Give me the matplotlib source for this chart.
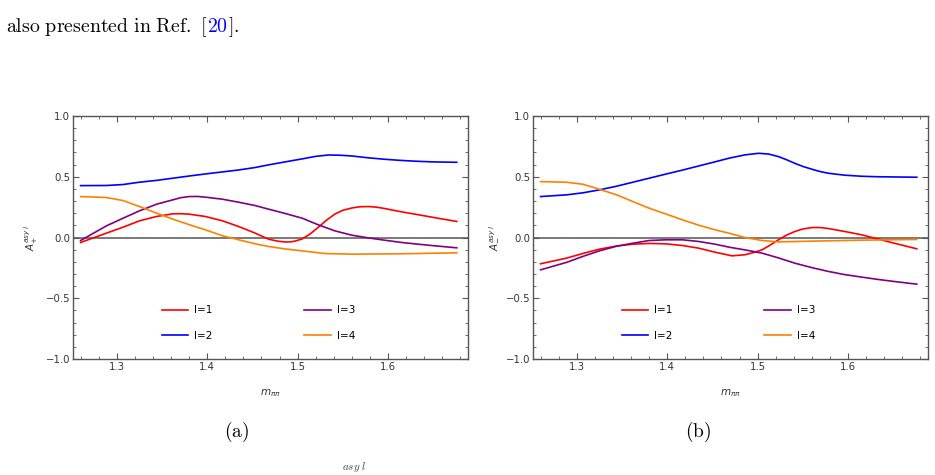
import numpy as np
import matplotlib
matplotlib.use("Agg")
import matplotlib.pyplot as plt
from matplotlib.ticker import MultipleLocator

plt.rcParams["mathtext.fontset"] = "cm"

# panel (a): A_+
a_x1 = [1.26, 1.2886, 1.307, 1.325, 1.344, 1.362, 1.371, 1.380, 1.398, 1.417, 1.435, 1.453, 1.468,
        1.478, 1.486, 1.492, 1.497, 1.505, 1.514, 1.523, 1.532, 1.541, 1.550, 1.560, 1.569, 1.578,
        1.587, 1.596, 1.615, 1.633, 1.651, 1.676]
a_y1 = [-0.041, 0.036, 0.085, 0.137, 0.173, 0.195, 0.196, 0.192, 0.173, 0.137, 0.090, 0.036, -0.014,
        -0.030, -0.037, -0.036, -0.030, -0.012, 0.030, 0.085, 0.143, 0.192, 0.224, 0.243, 0.253, 0.255,
        0.250, 0.239, 0.211, 0.188, 0.164, 0.132]
a_x2 = [1.26, 1.2886, 1.307, 1.325, 1.344, 1.362, 1.380, 1.398, 1.417, 1.435, 1.453, 1.468, 1.486,
        1.505, 1.520, 1.534, 1.547, 1.560, 1.578, 1.596, 1.615, 1.633, 1.651, 1.676]
a_y2 = [0.427, 0.428, 0.436, 0.455, 0.470, 0.488, 0.506, 0.523, 0.540, 0.556, 0.576, 0.598, 0.622,
        0.647, 0.668, 0.679, 0.677, 0.671, 0.656, 0.644, 0.634, 0.627, 0.622, 0.619]
a_x3 = [1.26, 1.2886, 1.307, 1.325, 1.344, 1.362, 1.371, 1.380, 1.389, 1.398, 1.417, 1.435, 1.453,
        1.468, 1.486, 1.505, 1.523, 1.541, 1.560, 1.578, 1.596, 1.615, 1.633, 1.651, 1.676]
a_y3 = [-0.025, 0.096, 0.159, 0.219, 0.274, 0.310, 0.328, 0.337, 0.338, 0.332, 0.315, 0.290, 0.263,
        0.233, 0.198, 0.159, 0.104, 0.055, 0.019, -0.003, -0.022, -0.041, -0.055, -0.068, -0.085]
a_x4 = [1.26, 1.2886, 1.307, 1.325, 1.347, 1.362, 1.384, 1.398, 1.417, 1.435, 1.453, 1.468, 1.486,
        1.505, 1.530, 1.560, 1.615, 1.676]
a_y4 = [0.337, 0.329, 0.304, 0.255, 0.192, 0.151, 0.096, 0.063, 0.014, -0.019, -0.052, -0.074,
        -0.094, -0.110, -0.132, -0.137, -0.134, -0.126]

# panel (b): A_-
b_x1 = [1.26, 1.2886, 1.307, 1.325, 1.344, 1.362, 1.380, 1.398, 1.417, 1.435, 1.453, 1.4716, 1.486,
        1.495, 1.505, 1.514, 1.523, 1.532, 1.541, 1.550, 1.560, 1.569, 1.578, 1.596, 1.615, 1.633,
        1.651, 1.676]
b_y1 = [-0.216, -0.170, -0.131, -0.096, -0.070, -0.055, -0.049, -0.052, -0.066, -0.088, -0.121, -0.151,
        -0.142, -0.125, -0.101, -0.062, -0.019, 0.020, 0.049, 0.070, 0.082, 0.082, 0.074, 0.050, 0.022,
        -0.012, -0.047, -0.093]
b_x2 = [1.26, 1.2886, 1.307, 1.325, 1.344, 1.362, 1.380, 1.398, 1.417, 1.435, 1.453, 1.468, 1.486,
        1.501, 1.512, 1.523, 1.532, 1.541, 1.550, 1.560, 1.569, 1.578, 1.596, 1.615, 1.633, 1.676]
b_y2 = [0.337, 0.351, 0.368, 0.392, 0.422, 0.455, 0.488, 0.521, 0.555, 0.589, 0.623, 0.652, 0.680,
        0.693, 0.687, 0.666, 0.640, 0.611, 0.585, 0.562, 0.543, 0.529, 0.513, 0.504, 0.500, 0.496]
b_x3 = [1.26, 1.2886, 1.307, 1.325, 1.344, 1.362, 1.380, 1.398, 1.417, 1.435, 1.453, 1.468, 1.486,
        1.505, 1.523, 1.541, 1.560, 1.578, 1.596, 1.615, 1.633, 1.651, 1.676]
b_y3 = [-0.266, -0.205, -0.155, -0.110, -0.072, -0.047, -0.025, -0.019, -0.019, -0.033, -0.055,
        -0.079, -0.102, -0.129, -0.168, -0.211, -0.248, -0.279, -0.305, -0.326, -0.345, -0.362, -0.384]
b_x4 = [1.26, 1.2886, 1.307, 1.325, 1.344, 1.362, 1.380, 1.398, 1.417, 1.435, 1.453, 1.468,
        1.486, 1.505, 1.523, 1.560, 1.615, 1.676]
b_y4 = [0.460, 0.455, 0.438, 0.397, 0.351, 0.296, 0.241, 0.195, 0.145, 0.101, 0.063, 0.036,
        0.0, -0.025, -0.036, -0.030, -0.022, -0.016]

labels = ["l=1", "l=2", "l=3", "l=4"]
colors = ["#ff0000", "#0000ff", "#800080", "#ff8000"]

fig = plt.figure(figsize=(9.35, 4.75), dpi=100)


def panel(ax, xs, ys, ylab):
    for x, y, c, lab in zip(xs, ys, colors, labels):
        ax.plot(x, y, color=c, lw=1.2, label=lab, solid_joinstyle="round")
    ax.axhline(0, color="#555555", lw=1.1, zorder=0)
    ax.set_xlim(1.2516, 1.6884)
    ax.set_ylim(-1, 1)
    ax.xaxis.set_major_locator(MultipleLocator(0.1))
    ax.xaxis.set_minor_locator(MultipleLocator(0.02))
    ax.yaxis.set_major_locator(MultipleLocator(0.5))
    ax.yaxis.set_minor_locator(MultipleLocator(0.1))
    ax.tick_params(which="both", direction="in", top=True, right=True,
                   color="#555555", labelsize=7.3, labelcolor="#333333", pad=2)
    ax.tick_params(which="major", length=4, width=0.8)
    ax.tick_params(which="minor", length=2, width=0.6)
    ax.set_yticks([-1, -0.5, 0, 0.5, 1])
    ax.set_yticklabels(["\u22121.0", "\u22120.5", "0.0", "0.5", "1.0"])
    for s in ax.spines.values():
        s.set_color("#555555")
        s.set_linewidth(1.0)
    ax.set_xlabel(r"$m_{\pi\pi}$", fontsize=7.5, color="#333333", labelpad=11,
                  math_fontfamily="dejavusans")
    ax.set_ylabel(ylab, fontsize=7.5, color="#333333", labelpad=4,
                  math_fontfamily="dejavusans")
    ax.legend(loc="center", bbox_to_anchor=(0.47, 0.148), ncol=2, frameon=False,
              fontsize=7.5, handlelength=2.5, columnspacing=8.8, labelspacing=1.5,
              handletextpad=0.6)


ax1 = fig.add_axes([73 / 935, 1 - 359 / 475, 395 / 935, 243 / 475])
panel(ax1, [a_x1, a_x2, a_x3, a_x4], [a_y1, a_y2, a_y3, a_y4], r"$A_{+}^{asy\,l}$")
ax2 = fig.add_axes([533 / 935, 1 - 359 / 475, 395 / 935, 243 / 475])
panel(ax2, [b_x1, b_x2, b_x3, b_x4], [b_y1, b_y2, b_y3, b_y4], r"$A_{-}^{asy\,l}$")

# surrounding page text
fig.text(6 / 935, 1 - 27 / 475, r"$\mathrm{also\ presented\ in\ Ref.}$", fontsize=14.3,
         va="center", ha="left")
fig.text(200 / 935, 1 - 27 / 475, r"$\mathrm{[}$", fontsize=14.3, va="center", ha="left")
fig.text(207 / 935, 1 - 27 / 475, r"$\mathrm{20}$", fontsize=14.3, color="#0000ff",
         va="center", ha="left")
fig.text(228 / 935, 1 - 27 / 475, r"$\mathrm{].}$", fontsize=14.3, va="center", ha="left")
fig.text(237 / 935, 1 - 432 / 475, r"$\mathrm{(a)}$", fontsize=14, ha="center", va="center")
fig.text(698 / 935, 1 - 432 / 475, r"$\mathrm{(b)}$", fontsize=14, ha="center", va="center")
fig.text(342 / 935, 1 / 475, r"$asy\ l$", fontsize=8, ha="left", va="bottom", color="#444444")

fig.savefig("out.png", dpi=100)
